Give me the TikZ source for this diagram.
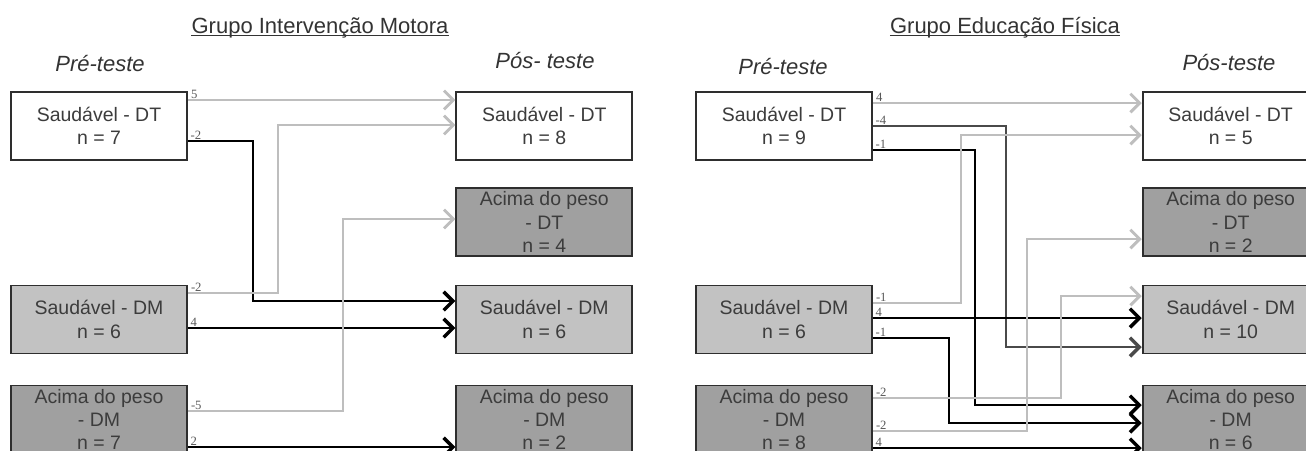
\documentclass[tikz,border=0pt]{standalone}
\usepackage{fontspec}
\setmainfont{Liberation Sans}
\newfontfamily\numfont{Liberation Serif}
\usetikzlibrary{arrows.meta}
\usetikzlibrary{positioning}

\definecolor{boxline}{HTML}{2E2E2E}
\definecolor{boxtext}{HTML}{3C3C3C}
\definecolor{lightbox}{HTML}{C2C2C2}
\definecolor{darkbox}{HTML}{A0A0A0}
\definecolor{flowgray}{HTML}{BEBEBE}
\definecolor{flowdark}{HTML}{4A4A4A}

\tikzset{
    state/.style={
           rectangle,
           draw=boxline, line width=1.4pt,
           minimum width=132pt,
           minimum height=51pt,
           inner sep=0pt,
           text=boxtext,
           align=center,
           font=\fontsize{14.6}{17.5}\selectfont,
           },
    dtbox/.style={state, fill=white},
    dmbox/.style={state, fill=lightbox},
    pesobox/.style={state, fill=darkbox},
    grouptitle/.style={inner sep=0pt, text=black!80, font=\fontsize{16.5}{20}\selectfont},
    phase/.style={inner sep=0pt, text=black!80, font=\fontsize{16.5}{20}\selectfont\itshape},
    num/.style={inner sep=0.5pt, xshift=1pt, anchor=south west, text=black!65,
           font=\numfont\fontsize{9.5}{9.5}\selectfont},
    dtflow/.style={draw=flowgray, line width=1.6pt,
           -{Straight Barb[length=7pt,width=14pt,line width=2.2pt]}},
    dmflow/.style={draw=black, line width=1.2pt,
           -{Straight Barb[length=7pt,width=14pt,line width=2.6pt]}},
}

\begin{document}
\begin{tikzpicture}[x=0.75pt, y=-0.75pt]
  \newlength{\boxspace}
  \setlength{\boxspace}{334pt}
  \newlength{\rowspace}
  \setlength{\rowspace}{72pt}

  \clip (0,0) rectangle (1306,450);

  % titles
  \node[grouptitle, anchor=base] (IMTITLE) at (320,33.5) {Grupo Intervenção Motora};
  \draw[black!80, line width=0.6pt] ([yshift=-1.7pt]IMTITLE.base west) -- ([yshift=-1.7pt]IMTITLE.base east);
  \node[grouptitle, anchor=base] (EFTITLE) at (1005,33.5) {Grupo Educação Física};
  \draw[black!80, line width=0.6pt] ([yshift=-1.7pt]EFTITLE.base west) -- ([yshift=-1.7pt]EFTITLE.base east);

  \node[phase, anchor=base] (IMPRELBL) at (100,71) {Pré-teste};
  \node[phase, anchor=base] (IMPOSLBL) at (545,68) {Pós- teste};
  \node[phase, anchor=base] (EFPRELBL) at (783,74) {Pré-teste};
  \node[phase, anchor=base] (EFPOSLBL) at (1229,70) {Pós-teste};

  % Grupo Intervencao Motora
  \node[dtbox] (IMPRE1) at (99,126) {Saudável - DT\\n = 7};
  \node[dmbox] (IMPRE3) at (99,319.5) {Saudável - DM\\n = 6};
  \node[pesobox] (IMPRE4) at (99,419.5) {Acima do peso\\- DM\\n = 7};

  \node[dtbox, right of=IMPRE1, node distance=\boxspace] (IMPOS1) {Saudável - DT\\n = 8};
  \node[pesobox, below of=IMPOS1, node distance=\rowspace] (IMPOS2) {Acima do peso\\- DT\\n = 4};
  \node[dmbox, right of=IMPRE3, node distance=\boxspace] (IMPOS3) {Saudável - DM\\n = 6};
  \node[pesobox, right of=IMPRE4, node distance=\boxspace] (IMPOS4) {Acima do peso\\- DM\\n = 2};

  % Grupo Educacao Fisica
  \node[dtbox] (EFPRE1) at (784,126) {Saudável - DT\\n = 9};
  \node[dmbox] (EFPRE3) at (784,319.5) {Saudável - DM\\n = 6};
  \node[pesobox] (EFPRE4) at (784,419.5) {Acima do peso\\- DM\\n = 8};

  \node[dtbox, right of=EFPRE1, node distance=335pt] (EFPOS1) {Saudável - DT\\n = 5};
  \node[pesobox, below of=EFPOS1, node distance=\rowspace] (EFPOS2) {Acima do peso\\- DT\\n = 2};
  \node[dmbox, right of=EFPRE3, node distance=335pt] (EFPOS3) {Saudável - DM\\n = 10};
  \node[pesobox, right of=EFPRE4, node distance=335pt] (EFPOS4) {Acima do peso\\- DM\\n = 6};

  % transitions, left group
  \draw[dtflow] (IMPRE1.east |- 0,100) node[num] {5} -- (IMPOS1.west |- 0,100);
  \draw[dmflow] (IMPRE1.east |- 0,141) node[num] {-2} -| (253,301) -- (IMPOS3.west |- 0,301);
  \draw[dtflow] (IMPRE3.east |- 0,293) node[num] {-2} -| (278,125) -- (IMPOS1.west |- 0,125);
  \draw[dmflow] (IMPRE3.east |- 0,328) node[num] {4} -- (IMPOS3.west |- 0,328);
  \draw[dtflow] (IMPRE4.east |- 0,411) node[num] {-5} -| (343,219) -- (IMPOS2.west |- 0,219);
  \draw[dmflow] (IMPRE4.east |- 0,447) node[num] {2} -- (IMPOS4.west |- 0,447);

  % transitions, right group
  \draw[dtflow] (EFPRE1.east |- 0,103) node[num] {4} -- (EFPOS1.west |- 0,103);
  \draw[dmflow, draw=flowdark] (EFPRE1.east |- 0,126) node[num] {-4} -| (1006,347) -- (EFPOS3.west |- 0,347);
  \draw[dmflow] (EFPRE1.east |- 0,150) node[num] {-1} -| (975,405) -- (EFPOS4.west |- 0,405);
  \draw[dtflow] (EFPRE3.east |- 0,303) node[num] {-1} -| (961,135) -- (EFPOS1.west |- 0,135);
  \draw[dmflow] (EFPRE3.east |- 0,318) node[num] {4} -- (EFPOS3.west |- 0,318);
  \draw[dmflow] (EFPRE3.east |- 0,338) node[num] {-1} -| (949,423) -- (EFPOS4.west |- 0,423);
  \draw[dtflow] (EFPRE4.east |- 0,398) node[num] {-2} -| (1061,296) -- (EFPOS3.west |- 0,296);
  \draw[dtflow] (EFPRE4.east |- 0,431) node[num] {-2} -| (1027,239) -- (EFPOS2.west |- 0,239);
  \draw[dmflow] (EFPRE4.east |- 0,448) node[num] {4} -- (EFPOS4.west |- 0,448);

\end{tikzpicture}
\end{document}
